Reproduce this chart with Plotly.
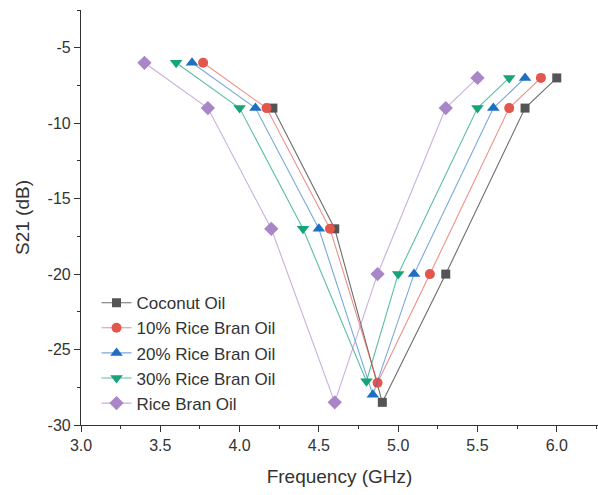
import plotly.graph_objects as go

names = ["Coconut Oil", "10% Rice Bran Oil", "20% Rice Bran Oil", "30% Rice Bran Oil", "Rice Bran Oil"]

coconut_x = [4.21, 4.6, 4.9, 5.3, 5.8, 6.0]
coconut_y = [-9, -17, -28.5, -20, -9, -7]

rb10_x = [3.77, 4.17, 4.57, 4.87, 5.2, 5.7, 5.9]
rb10_y = [-6, -9, -17, -27.2, -20, -9, -7]

rb20_x = [3.7, 4.1, 4.5, 4.84, 5.1, 5.6, 5.8]
rb20_y = [-6, -9, -17, -28, -20, -9, -7]

rb30_x = [3.6, 4.0, 4.4, 4.8, 5.0, 5.5, 5.7]
rb30_y = [-6, -9, -17, -27.1, -20, -9, -7]

rice_x = [3.4, 3.8, 4.2, 4.6, 4.87, 5.3, 5.5]
rice_y = [-6, -9, -17, -28.5, -20, -9, -7]

x_ticks = [3.0, 3.5, 4.0, 4.5, 5.0, 5.5, 6.0]
x_ticklabels = ["3.0", "3.5", "4.0", "4.5", "5.0", "5.5", "6.0"]
y_ticks = [-30, -25, -20, -15, -10, -5]
y_ticklabels = ["-30", "-25", "-20", "-15", "-10", "-5"]

xs = [coconut_x, rb10_x, rb20_x, rb30_x, rice_x]
ys = [coconut_y, rb10_y, rb20_y, rb30_y, rice_y]

marker_colors = ["#545454", "#e4554d", "#1e6fc4", "#16a47b", "#a886c8"]
line_colors = ["rgba(84,84,84,0.85)", "rgba(228,85,77,0.65)", "rgba(30,111,196,0.6)",
               "rgba(22,164,123,0.7)", "rgba(168,134,200,0.65)"]
symbols = ["square", "circle", "triangle-up", "triangle-down", "diamond"]
sizes = [9, 10, 11, 11, 11]

fig = go.Figure()
for x, y, n, mc, lc, s, sz in zip(xs, ys, names, marker_colors, line_colors, symbols, sizes):
    fig.add_trace(go.Scatter(
        x=x, y=y, name=n, mode="lines+markers",
        line=dict(color=lc, width=1.1),
        marker=dict(color=mc, symbol=s, size=sz, line=dict(width=0)),
    ))

axis_common = dict(
    showline=True, linecolor="#333333", linewidth=1.2,
    ticks="outside", ticklen=6, tickwidth=1.2, tickcolor="#333333",
    showgrid=False, zeroline=False, mirror=False,
    tickfont=dict(family="Liberation Sans, Arial", size=16, color="#333333"),
    minor=dict(ticks="outside", ticklen=3, tickwidth=1.2, tickcolor="#333333", showgrid=False),
)

fig.update_layout(
    width=598, height=495,
    margin=dict(l=81, r=0, t=10, b=70),
    paper_bgcolor="white", plot_bgcolor="white",
    font=dict(family="Liberation Sans, Arial", color="#333333"),
    xaxis=dict(axis_common, range=[3.0, 6.26], tickmode="array", tickvals=x_ticks, ticktext=x_ticklabels,
               title=dict(text="Frequency (GHz)", font=dict(size=19, color="#333333"), standoff=16)),
    yaxis=dict(axis_common, range=[-30, -2.5], tickmode="array", tickvals=y_ticks, ticktext=y_ticklabels,
               title=dict(text="S21 (dB)", font=dict(size=19, color="#333333"), standoff=12)),
    legend=dict(x=0.03, y=0.337, xanchor="left", yanchor="top",
                bgcolor="rgba(0,0,0,0)", font=dict(size=17, color="#333333"),
                tracegroupgap=0),
    showlegend=True,
)
fig.update_xaxes(minor=dict(tickvals=[3.25, 3.75, 4.25, 4.75, 5.25, 5.75, 6.25]))
fig.update_yaxes(minor=dict(tickvals=[-27.5, -22.5, -17.5, -12.5, -7.5, -2.5]))

fig.write_html("out.html")
